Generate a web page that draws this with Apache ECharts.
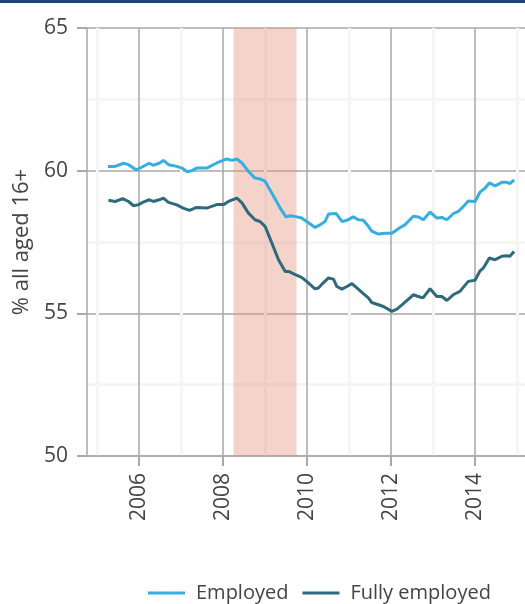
<!DOCTYPE html>
<html>
<head>
<meta charset="utf-8">
<script src="https://cdn.jsdelivr.net/npm/echarts@6/dist/echarts.min.js"></script>
<style>
  html, body { margin: 0; padding: 0; background: #fff; }
  #chart { width: 525px; height: 604px; }
</style>
</head>
<body>
<div id="chart"></div>
<script>
// employment rates, % of all aged 16+
const employedX = [2005.26, 2005.43, 2005.63, 2005.75, 2005.93, 2006.06, 2006.24, 2006.33, 2006.48, 2006.58,
  2006.70, 2006.90, 2007.02, 2007.15, 2007.26, 2007.37, 2007.61, 2007.85, 2008.09, 2008.21,
  2008.33, 2008.45, 2008.60, 2008.76, 2008.88, 2009.00, 2009.16, 2009.36, 2009.50, 2009.60,
  2009.76, 2009.87, 2009.99, 2010.19, 2010.31, 2010.43, 2010.51, 2010.69, 2010.83, 2010.95,
  2011.10, 2011.22, 2011.34, 2011.46, 2011.54, 2011.70, 2011.86, 2012.02, 2012.21, 2012.33,
  2012.53, 2012.65, 2012.77, 2012.93, 2013.09, 2013.21, 2013.33, 2013.48, 2013.60, 2013.72,
  2013.84, 2014.00, 2014.12, 2014.24, 2014.34, 2014.48, 2014.64, 2014.76, 2014.83, 2014.93];
const employedY = [60.15, 60.15, 60.26, 60.21, 60.03, 60.12, 60.26, 60.19, 60.26, 60.36,
  60.21, 60.15, 60.09, 59.96, 60.00, 60.09, 60.09, 60.27, 60.41, 60.36,
  60.41, 60.27, 59.98, 59.74, 59.71, 59.63, 59.22, 58.69, 58.38, 58.42,
  58.38, 58.34, 58.22, 58.01, 58.10, 58.22, 58.48, 58.50, 58.22, 58.26,
  58.38, 58.28, 58.26, 58.05, 57.88, 57.78, 57.81, 57.81, 58.00, 58.10,
  58.40, 58.38, 58.28, 58.55, 58.34, 58.36, 58.28, 58.49, 58.57, 58.74,
  58.94, 58.92, 59.25, 59.39, 59.57, 59.47, 59.59, 59.59, 59.55, 59.68];

const fullX = [2005.27, 2005.43, 2005.61, 2005.75, 2005.87, 2005.99, 2006.10, 2006.24, 2006.34, 2006.48,
  2006.58, 2006.70, 2006.90, 2007.05, 2007.20, 2007.37, 2007.61, 2007.85, 2008.01, 2008.13,
  2008.33, 2008.45, 2008.60, 2008.76, 2008.88, 2009.00, 2009.16, 2009.32, 2009.48, 2009.56,
  2009.72, 2009.87, 2009.99, 2010.19, 2010.27, 2010.38, 2010.51, 2010.63, 2010.71, 2010.83,
  2010.95, 2011.07, 2011.22, 2011.34, 2011.46, 2011.54, 2011.70, 2011.82, 2012.02, 2012.14,
  2012.26, 2012.45, 2012.53, 2012.65, 2012.76, 2012.93, 2013.09, 2013.21, 2013.33, 2013.48,
  2013.64, 2013.84, 2014.00, 2014.12, 2014.20, 2014.34, 2014.48, 2014.64, 2014.76, 2014.83, 2014.93];
const fullY = [58.96, 58.92, 59.02, 58.92, 58.77, 58.81, 58.90, 58.98, 58.92, 58.98,
  59.04, 58.89, 58.80, 58.69, 58.61, 58.71, 58.69, 58.81, 58.81, 58.92,
  59.04, 58.87, 58.52, 58.28, 58.22, 58.05, 57.47, 56.88, 56.47, 56.47,
  56.36, 56.26, 56.12, 55.86, 55.89, 56.06, 56.24, 56.20, 55.94, 55.85,
  55.94, 56.04, 55.85, 55.69, 55.54, 55.38, 55.30, 55.24, 55.07, 55.15,
  55.30, 55.54, 55.65, 55.59, 55.54, 55.86, 55.59, 55.59, 55.45, 55.65,
  55.77, 56.12, 56.16, 56.49, 56.59, 56.94, 56.88, 57.00, 57.02, 57.00, 57.17];

const recession = [2008.25, 2009.75];
const majorYears = [2006, 2008, 2010, 2012, 2014];
const minorYears = [2005, 2007, 2009, 2011, 2013, 2015];
const seriesNames = ["Employed", "Fully employed"];

const zip = (xs, ys) => xs.map((x, i) => [x, ys[i]]);

const font = "'Open Sans', 'Noto Sans', sans-serif";
const gray = "#a9a9a9";
const textColor = "#444";

const chart = echarts.init(document.getElementById("chart"));
chart.setOption({
  animation: false,
  color: ["#36afe0", "#2d6b7c"],
  graphic: [{
    type: "rect",
    left: 0, top: 0,
    shape: { width: 525, height: 3 },
    style: { fill: "#1d4675" }
  }],
  grid: { left: 87, right: 0, top: 28, bottom: 148, outerBoundsMode: "none" },
  legend: {
    data: seriesNames,
    left: 143,
    top: 578,
    icon: "rect",
    itemWidth: 37,
    itemHeight: 3,
    itemGap: 14,
    textStyle: { fontFamily: font, fontSize: 20, color: textColor, padding: [0, 0, 0, 6] }
  },
  xAxis: [{
    type: "value",
    min: 2004.76,
    max: 2015.19,
    axisLine: { lineStyle: { color: gray, width: 1.5 } },
    axisTick: { show: true, length: 10, customValues: majorYears, lineStyle: { color: gray, width: 2 } },
    axisLabel: {
      customValues: majorYears,
      rotate: 90,
      margin: 17,
      fontFamily: font,
      fontSize: 21,
      color: textColor,
      formatter: (v) => String(Math.round(v))
    },
    splitLine: { show: true, lineStyle: { color: gray, width: 1.5 } }
  }, {
    type: "value",
    min: 2004.76,
    max: 2015.19,
    position: "bottom",
    axisLine: { show: false },
    axisTick: { show: false, customValues: minorYears },
    axisLabel: { show: false, customValues: minorYears },
    splitLine: { show: true, lineStyle: { color: "#f5f5f5", width: 3 } }
  }],
  yAxis: {
    type: "value",
    min: 50,
    max: 65,
    interval: 5,
    name: "% all aged 16+",
    nameLocation: "middle",
    nameGap: 46,
    nameTextStyle: { fontFamily: font, fontSize: 22, color: textColor },
    axisLine: { show: true, lineStyle: { color: gray, width: 1.5 } },
    axisTick: { show: true, length: 10, lineStyle: { color: gray, width: 2 } },
    axisLabel: { margin: 19, fontFamily: font, fontSize: 21, color: textColor },
    splitLine: { show: true, lineStyle: { color: gray, width: 1.5 } },
    minorTick: { show: false, splitNumber: 2 },
    minorSplitLine: { show: true, lineStyle: { color: "#f5f5f5", width: 3 } }
  },
  series: [{
    name: seriesNames[0],
    type: "line",
    data: zip(employedX, employedY),
    showSymbol: false,
    lineStyle: { width: 3 },
    z: 3,
    markArea: {
      silent: true,
      itemStyle: { color: "rgba(226,140,115,0.38)" },
      data: [[{ xAxis: recession[0] }, { xAxis: recession[1] }]]
    }
  }, {
    name: seriesNames[1],
    type: "line",
    data: zip(fullX, fullY),
    showSymbol: false,
    lineStyle: { width: 3 },
    z: 3
  }]
});
</script>
</body>
</html>
